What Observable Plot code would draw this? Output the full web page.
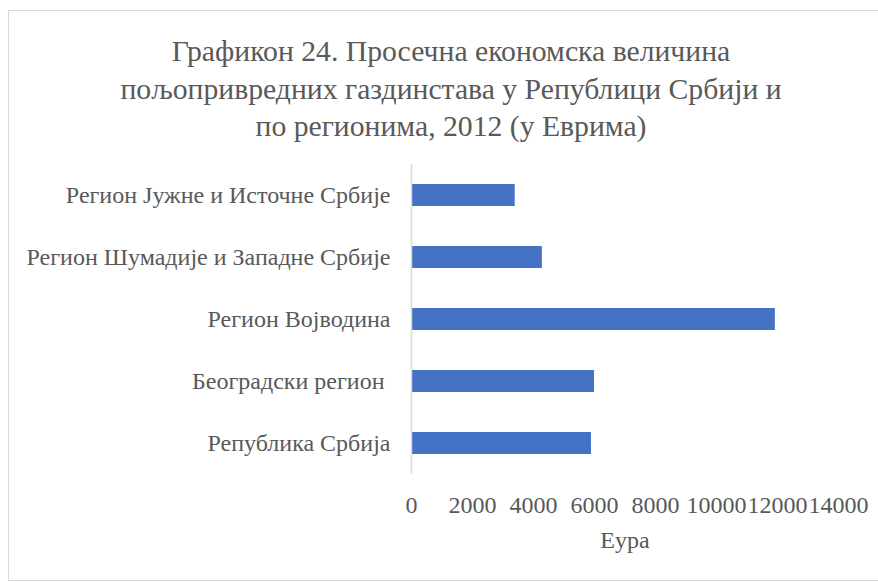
<!DOCTYPE html>
<html>
<head>
<meta charset="utf-8">
<script src="https://cdn.jsdelivr.net/npm/d3@7"></script>
<script src="https://cdn.jsdelivr.net/npm/@observablehq/plot@0.6"></script>
<style>
  body { margin: 0; background: #fff; }
  #wrap { position: relative; width: 878px; height: 583px; overflow: hidden; background: #fff; font-family: "Liberation Serif", "Tinos", "DejaVu Serif", serif; }
  #frame { position: absolute; left: 8px; top: 10px; width: 900px; height: 571px; border: 1.5px solid #d9d9d9; box-sizing: border-box; }
  #title { position: absolute; left: 0; top: 33px; width: 902px; text-align: center; font-size: 29.7px; line-height: 37.5px; color: #595959; }
  #chart { position: absolute; left: 0; top: 150px; }
  #chart svg text { font-family: "Liberation Serif", "Tinos", "DejaVu Serif", serif; }
</style>
</head>
<body>
<div id="wrap">
  <div id="frame"></div>
  <div id="title">Графикон 24. Просечна економска величина<br>пољопривредних газдинстава у Републици Србији и<br>по регионима, 2012 (у Еврима)</div>
  <div id="chart"></div>
</div>
<script>
const regions = [
  "Регион Јужне и Источне Србије",
  "Регион Шумадије и Западне Србије",
  "Регион Војводина",
  "Београдски регион\u00a0",
  "Република Србија"
];
const values = [3400, 4290, 11930, 6000, 5900];
const xTicks = [0, 2000, 4000, 6000, 8000, 10000, 12000, 14000];
const xLabel = "Еура";

const data = regions.map((r, i) => ({region: r, value: values[i]}));

const chart = Plot.plot({
  width: 878,
  height: 433,
  marginTop: 14,
  marginBottom: 109,
  marginLeft: 411,
  marginRight: 40,
  style: {fontFamily: "'Liberation Serif', 'Tinos', 'DejaVu Serif', serif", color: "#595959", background: "transparent"},
  x: {domain: [0, 14000], ticks: xTicks, tickFormat: d => String(d)},
  y: {domain: regions, paddingInner: 0.645, paddingOuter: 0.3225},
  marks: [
    Plot.barX(data, {y: "region", x: "value", fill: "#4472C4"}),
    Plot.ruleX([0], {stroke: "#d9d9d9", strokeWidth: 1.5}),
    Plot.axisX({ticks: xTicks, tickSize: 0, tickPadding: 21, fontSize: 24, tickFormat: d => String(d), label: null, fill: "#595959"}),
    Plot.text([xLabel], {frameAnchor: "bottom", dy: 73, fontSize: 24, fill: "#595959", text: d => d}),
    Plot.axisY({tickSize: 0, tickPadding: 21, fontSize: 24, label: null, fill: "#595959"})
  ]
});
document.getElementById("chart").appendChild(chart);
</script>
</body>
</html>
